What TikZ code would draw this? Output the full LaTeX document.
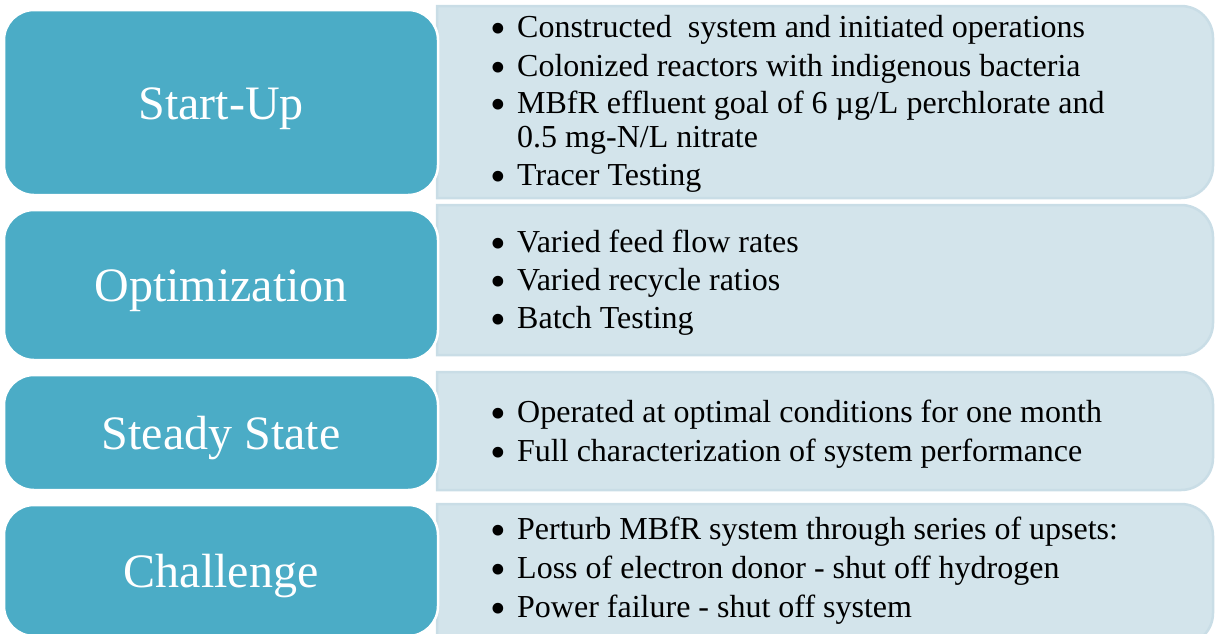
\documentclass[tikz,border=0pt]{standalone}
\usepackage{fontspec}
\usepackage{graphicx}
\setmainfont{Liberation Serif}
\definecolor{stageblue}{HTML}{4BACC6}
\definecolor{listfill}{HTML}{D3E4EB}
\definecolor{listedge}{HTML}{C9DDE6}
\newcommand{\bul}{\makebox[24pt][l]{\hspace*{-3pt}\raisebox{-6pt}{\scalebox{1.4}{\textbullet}}}}
\begin{document}
\begin{tikzpicture}[x=1pt, y=-1pt,
        stage/.style={rounded corners=30pt, fill=stageblue, draw=white, line width=2.5pt,
            text=white, font=\fontsize{48}{56}\selectfont, minimum width=434pt, inner sep=0pt,
            text height=33pt, text depth=0pt},
        listbox/.style={fill=listfill, draw=listedge, line width=2.5pt},
        items/.style={anchor=base west, align=left, inner sep=0pt, font=\fontsize{32}{34}\selectfont}]
        \useasboundingbox (0,0) rectangle (1215,633);

        % Start-Up
        \draw[listbox] (437,6) [rounded corners=32pt] -- (1213,6) -- (1213,198) [sharp corners] -- (437,198) -- cycle;
        \node[stage, minimum height=185pt] (startup) at (221,102.5) {Start-Up};
        \node[items] (startup-list) at (493,185) {\bul Constructed~ system and initiated operations\\[5pt]
            \bul Colonized reactors with indigenous bacteria\\[3pt]
            \bul MBfR effluent goal of 6 µg/L perchlorate and\\
            \hspace*{24pt}0.5 mg-N/L nitrate\\[4pt]
            \bul Tracer Testing};

        % Optimization
        \draw[listbox] (437,205) [rounded corners=32pt] -- (1213,205) -- (1213,355) [sharp corners] -- (437,355) -- cycle;
        \node[stage, minimum height=150pt] (optim) at (221,285) {Optimization};
        \node[items] (optim-list) at (493,328) {\bul Varied feed flow rates\\[4pt]
            \bul Varied recycle ratios\\[4pt]
            \bul Batch Testing};

        % Steady State
        \draw[listbox] (437,372) [rounded corners=32pt] -- (1213,372) -- (1213,490) [sharp corners] -- (437,490) -- cycle;
        \node[stage, minimum height=115pt] (steady) at (221,432.5) {Steady State};
        \node[items] (steady-list) at (493,461) {\bul Operated at optimal conditions for one month\\[5pt]
            \bul Full characterization of system performance};

        % Challenge
        \draw[listbox] (437,504) [rounded corners=32pt] -- (1213,504) -- (1213,645) [sharp corners] -- (437,645) -- cycle;
        \node[stage, minimum height=131pt] (challenge) at (221,570.5) {Challenge};
        \node[items] (challenge-list) at (493,617) {\bul Perturb MBfR system through series of upsets:\\[5pt]
            \bul Loss of electron donor - shut off hydrogen\\[5pt]
            \bul Power failure - shut off system};
    \end{tikzpicture}
\end{document}
